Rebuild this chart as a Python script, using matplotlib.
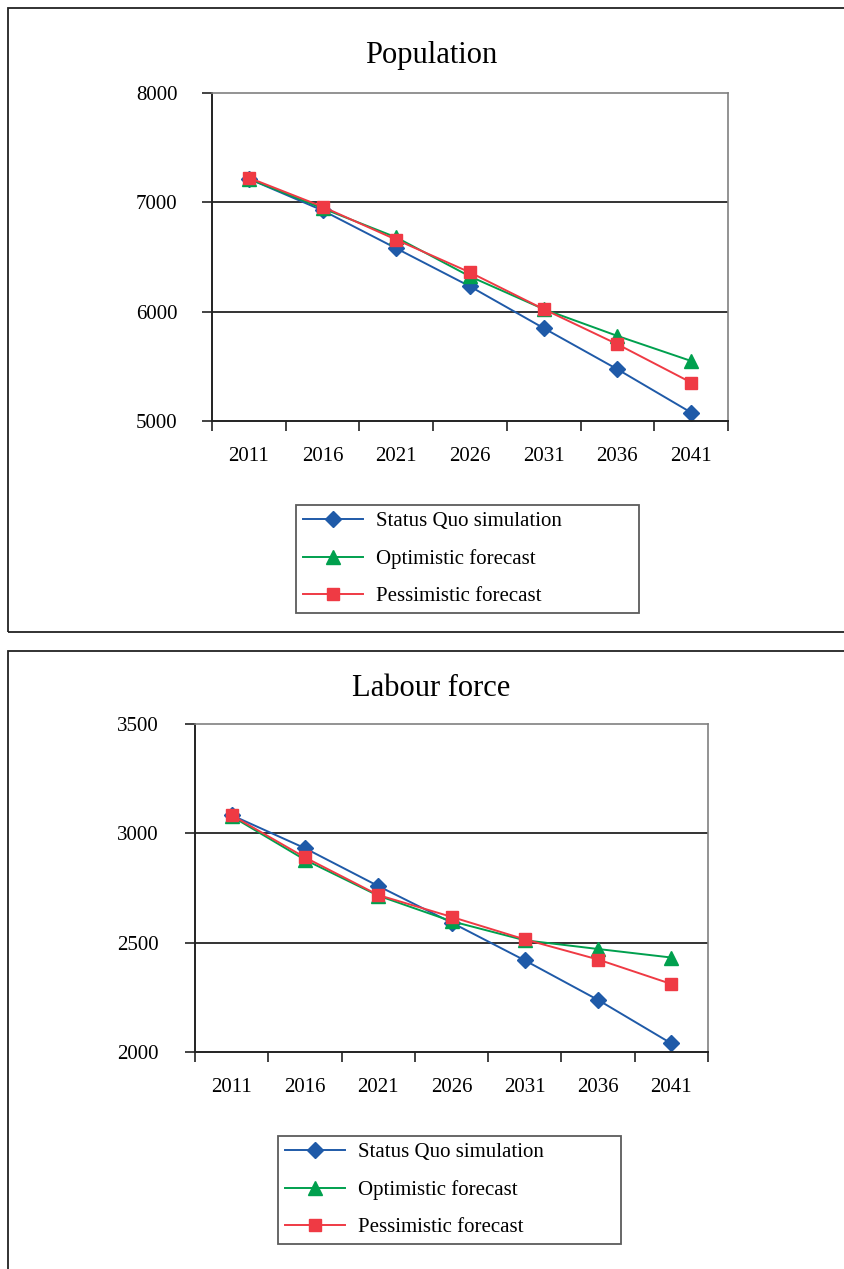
import matplotlib.pyplot as plt
from matplotlib.lines import Line2D
from matplotlib.patches import Rectangle

plt.rcParams["font.family"] = ["Liberation Serif", "DejaVu Serif"]

years = ["2011", "2016", "2021", "2026", "2031", "2036", "2041"]

# Population (thousands)
pop_status_quo = [7215, 6926, 6579, 6231, 5849, 5473, 5077]
pop_optimistic = [7215, 6945, 6679, 6322, 6023, 5778, 5549]
pop_pessimistic = [7225, 6960, 6658, 6359, 6023, 5702, 5352]

# Labour force (thousands)
lab_status_quo = [3083, 2932, 2759, 2592, 2419, 2238, 2039]
lab_optimistic = [3078, 2879, 2715, 2598, 2511, 2471, 2432]
lab_pessimistic = [3083, 2890, 2718, 2618, 2515, 2423, 2311]

series_names = ["Status Quo simulation", "Optimistic forecast", "Pessimistic forecast"]
colors = ["#1f5aa8", "#00a04e", "#ef3a44"]
markers = ["D", "^", "s"]
marker_sizes = [8, 10, 9]

W, H = 844, 1269
fig = plt.figure(figsize=(W / 100, H / 100), dpi=100)


def fx(px):
    return px / W


def fy(py):
    return 1 - py / H


def draw_panel(title, series, ylim, yticks, box, title_y, legend_box, panel_top, panel_bottom, ypad):
    # outer frame of the panel
    fig.patches.append(Rectangle((fx(7.5), fy(panel_bottom)), fx(900), fy(panel_top) - fy(panel_bottom),
                                 transform=fig.transFigure, fill=False,
                                 edgecolor="#222222", linewidth=1.3))
    x0, y0, x1, y1 = box
    ax = fig.add_axes([fx(x0), fy(y1), fx(x1 - x0), fy(y0) - fy(y1)])
    xs = list(range(len(years)))
    for vals, c, m, ms in zip(series, colors, markers, marker_sizes):
        ax.plot(xs, vals, color=c, marker=m, markersize=ms, linewidth=1.4,
                markeredgecolor=c, clip_on=False)
    ax.set_xlim(-0.5, len(years) - 0.5)
    ax.set_ylim(*ylim)
    ax.set_yticks(yticks)
    ax.set_yticklabels([str(t) for t in yticks])
    # tick marks between categories, labels at the category centres
    ax.set_xticks([i - 0.5 for i in range(len(years) + 1)])
    ax.set_xticklabels([])
    ax.set_xticks(xs, minor=True)
    ax.set_xticklabels(years, minor=True)
    ax.tick_params(axis="x", which="major", direction="out", length=7, width=1.2, color="#222222")
    ax.tick_params(axis="x", which="minor", length=0, pad=19, labelsize=15)
    ax.tick_params(axis="y", direction="out", length=7, width=1.2, color="#222222",
                   pad=ypad, labelsize=15)
    for t in yticks[1:-1]:
        ax.axhline(t, color="#333333", linewidth=1.4, zorder=0)
    ax.spines["left"].set_color("#222222")
    ax.spines["bottom"].set_color("#222222")
    ax.spines["left"].set_linewidth(1.4)
    ax.spines["bottom"].set_linewidth(1.4)
    ax.spines["top"].set_color("#808080")
    ax.spines["right"].set_color("#808080")
    ax.spines["top"].set_linewidth(1.2)
    ax.spines["right"].set_linewidth(1.2)

    fig.text(fx(431), fy(title_y), title, ha="center", va="center", fontsize=22)

    handles = [Line2D([], [], color=c, marker=m, markersize=ms, linewidth=1.4, markeredgecolor=c)
               for c, m, ms in zip(colors, markers, marker_sizes)]
    lx0, ly0, lx1, ly1 = legend_box
    leg = fig.legend(handles, series_names, loc="upper left",
                     bbox_to_anchor=(fx(lx0), fy(ly1), fx(lx1 - lx0), fy(ly0) - fy(ly1)),
                     mode="expand", fontsize=15, handlelength=2.9, handletextpad=0.6,
                     labelspacing=0.85, borderpad=0.32, borderaxespad=0,
                     fancybox=False, frameon=True)
    leg.get_frame().set_edgecolor("#333333")
    leg.get_frame().set_linewidth(1.3)
    return ax


draw_panel("Population", [pop_status_quo, pop_optimistic, pop_pessimistic],
           (5000, 8000), [5000, 6000, 7000, 8000], (212, 93, 728, 421), 56,
           (296, 505, 639, 616), 8, 632, 18)

draw_panel("Labour force", [lab_status_quo, lab_optimistic, lab_pessimistic],
           (2000, 3500), [2000, 2500, 3000, 3500], (195, 724, 708, 1052), 688,
           (278, 1136, 621, 1247), 650.5, 1300, 19)

fig.savefig("out.png", dpi=100)
